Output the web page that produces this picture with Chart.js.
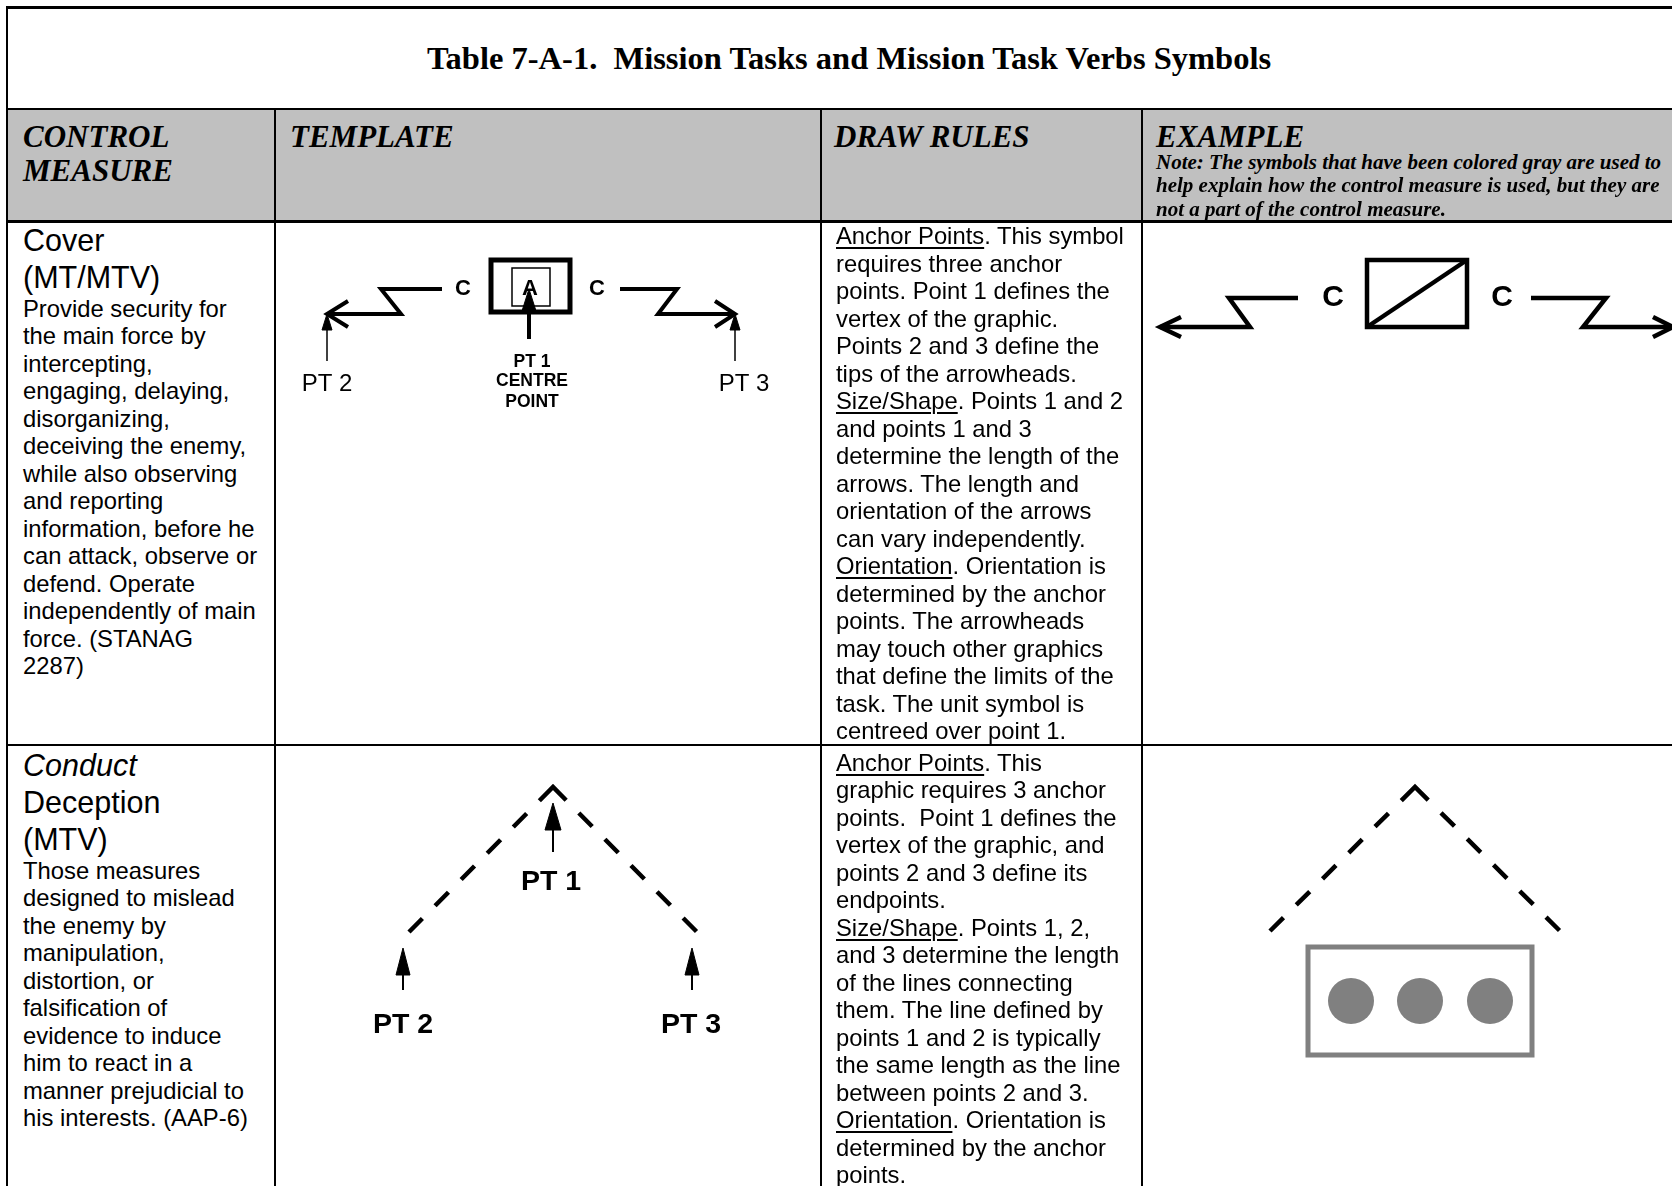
<!DOCTYPE html>
<html>
<head>
<meta charset="utf-8">
<script src="https://cdn.jsdelivr.net/npm/chart.js@4.4.1/dist/chart.umd.min.js"></script>
<style>
html,body{margin:0;padding:0;background:#fff;}
#page{position:relative;width:1672px;height:1186px;overflow:hidden;background:#fff;}
.ln{position:absolute;background:#000;}
.t{position:absolute;white-space:pre;color:#000;}
.t u{text-decoration-thickness:1.6px;text-underline-offset:3px;}
canvas{position:absolute;}
</style>
</head>
<body>
<div id="page"></div>
<script>
// ---------------- TEXT CONTENT ----------------
const titleText = 'Table 7-A-1.  Mission Tasks and Mission Task Verbs Symbols';
const headerControl = ['CONTROL', 'MEASURE'];
const headerTemplate = ['TEMPLATE'];
const headerDrawRules = ['DRAW RULES'];
const headerExample = ['EXAMPLE'];
const exampleNote = [
  'Note: The symbols that have been colored gray are used to',
  'help explain how the control measure is used, but they are',
  'not a part of the control measure.'
];
const coverName = ['Cover', '(MT/MTV)'];
const coverDesc = [
  'Provide security for', 'the main force by', 'intercepting,', 'engaging, delaying,',
  'disorganizing,', 'deceiving the enemy,', 'while also observing', 'and reporting',
  'information, before he', 'can attack, observe or', 'defend. Operate',
  'independently of main', 'force. (STANAG', '2287)'
];
const coverRules = [
  '<u>Anchor Points</u>. This symbol', 'requires three anchor', 'points. Point 1 defines the',
  'vertex of the graphic.', 'Points 2 and 3 define the', 'tips of the arrowheads.',
  '<u>Size/Shape</u>. Points 1 and 2', 'and points 1 and 3', 'determine the length of the',
  'arrows. The length and', 'orientation of the arrows', 'can vary independently.',
  '<u>Orientation</u>. Orientation is', 'determined by the anchor', 'points. The arrowheads',
  'may touch other graphics', 'that define the limits of the', 'task. The unit symbol is',
  'centreed over point 1.'
];
const deceptionName = ['<i>Conduct</i>', 'Deception', '(MTV)'];
const deceptionDesc = [
  'Those measures', 'designed to mislead', 'the enemy by', 'manipulation,', 'distortion, or',
  'falsification of', 'evidence to induce', 'him to react in a', 'manner prejudicial to',
  'his interests. (AAP-6)'
];
const deceptionRules = [
  '<u>Anchor Points</u>. This', 'graphic requires 3 anchor', 'points.  Point 1 defines the',
  'vertex of the graphic, and', 'points 2 and 3 define its', 'endpoints.',
  '<u>Size/Shape</u>. Points 1, 2,', 'and 3 determine the length', 'of the lines connecting',
  'them. The line defined by', 'points 1 and 2 is typically', 'the same length as the line',
  'between points 2 and 3.', '<u>Orientation</u>. Orientation is', 'determined by the anchor',
  'points.'
];

// ---------------- SYMBOL GEOMETRY (cell units) ----------------
// Cover - template
const coverTplLeftLine  = [{x:52,y:93},{x:126,y:93},{x:106,y:68},{x:167,y:68}];
const coverTplLeftHead  = [{x:73,y:80},{x:52,y:93},{x:73,y:106}];
const coverTplRightLine = [{x:345,y:68},{x:402,y:68},{x:383,y:93},{x:460,y:93}];
const coverTplRightHead = [{x:440,y:80},{x:460,y:93},{x:440,y:106}];
const coverTplUnitOuter = [{x:216,y:39},{x:295,y:39},{x:295,y:91},{x:216,y:91},{x:216,y:39},{x:295,y:39}];
const coverTplUnitInner = [{x:237,y:47},{x:275,y:47},{x:275,y:85},{x:237,y:85},{x:237,y:47},{x:275,y:47}];
const coverTplPt1Shaft  = [{x:254,y:118},{x:254,y:88}];
const coverTplPt1Head   = [{x:254,y:68},{x:261,y:90},{x:247,y:90},{x:254,y:68}];
const coverTplPt2Shaft  = [{x:52,y:140},{x:52,y:107}];
const coverTplPt2Head   = [{x:52,y:93},{x:57,y:109},{x:47,y:109},{x:52,y:93}];
const coverTplPt3Shaft  = [{x:460,y:140},{x:460,y:107}];
const coverTplPt3Head   = [{x:460,y:93},{x:465,y:109},{x:455,y:109},{x:460,y:93}];
const coverTplBoldLabels  = [{x:188,y:68,text:'C'},{x:322,y:68,text:'C'},{x:255,y:68,text:'A'}];
const coverTplSmallLabels = [{x:257,y:141,text:'PT 1'},{x:257,y:160,text:'CENTRE'},{x:257,y:181,text:'POINT'}];
const coverTplPtLabels    = [{x:52,y:163,text:'PT 2'},{x:469,y:163,text:'PT 3'}];

// Cover - example
const coverExLeftLine  = [{x:18,y:106},{x:108,y:106},{x:87,y:77},{x:156,y:77}];
const coverExLeftHead  = [{x:39,y:96},{x:18,y:106},{x:39,y:116}];
const coverExRightLine = [{x:389,y:77},{x:464,y:77},{x:441,y:106},{x:531,y:106}];
const coverExRightHead = [{x:511,y:96},{x:531,y:106},{x:511,y:116}];
const coverExUnit      = [{x:225,y:39},{x:325,y:39},{x:325,y:106},{x:225,y:106},{x:225,y:39},{x:325,y:39}];
const coverExUnitDiag  = [{x:225,y:106},{x:325,y:39}];
const coverExLabels    = [{x:191,y:77,text:'C'},{x:360,y:77,text:'C'}];

// Deception - template
const decTplLine     = [{x:134,y:187},{x:278,y:42},{x:422,y:187}];
const decTplPt1Head  = [{x:278,y:58},{x:286,y:85},{x:270,y:85},{x:278,y:58}];
const decTplPt1Shaft = [{x:278,y:84},{x:278,y:107}];
const decTplPt2Head  = [{x:128,y:203},{x:135,y:230},{x:121,y:230},{x:128,y:203}];
const decTplPt2Shaft = [{x:128,y:229},{x:128,y:245}];
const decTplPt3Head  = [{x:417,y:203},{x:424,y:230},{x:410,y:230},{x:417,y:203}];
const decTplPt3Shaft = [{x:417,y:229},{x:417,y:245}];
const decTplLabels   = [{x:276,y:137,text:'PT 1'},{x:128,y:280,text:'PT 2'},{x:416,y:280,text:'PT 3'}];

// Deception - example
const decExLine   = [{x:128,y:186},{x:273,y:42},{x:418,y:186}];
const decExUnit   = [{x:166,y:202},{x:390,y:202},{x:390,y:310},{x:166,y:310},{x:166,y:202},{x:390,y:202}];
const decExDots   = [{x:209,y:256},{x:278,y:256},{x:348,y:256}];

// ---------------- LAYOUT ----------------
const page = document.getElementById('page');
const PW = 1672, PH = 1186;
const colX = [7, 275, 821, 1142];
const rowY = [7, 109, 221, 745];
const SANS = '"Liberation Sans", Arial, sans-serif';
const SERIF = '"Liberation Serif", "Times New Roman", serif';
// dashed chevron: 5 dashes, a doubled dash across the vertex, 5 dashes
const chevronDash = [19,18,19,18,19,18,19,18,19,18,38,18,19,18,19,18,19,18,19,18,19,2000];

function box(x, y, w, h, color) {
  const d = document.createElement('div');
  d.className = 'ln';
  d.style.left = x + 'px'; d.style.top = y + 'px';
  d.style.width = w + 'px'; d.style.height = h + 'px';
  d.style.background = color || '#000';
  page.appendChild(d);
}
function place(html, x, base, o) {
  const d = document.createElement('div');
  d.className = 't';
  const asc = o.serif ? 0.891 : 0.905, desc = o.serif ? 0.216 : 0.212;
  d.style.fontFamily = o.serif ? SERIF : SANS;
  d.style.fontSize = o.size + 'px';
  d.style.lineHeight = o.size + 'px';
  d.style.fontWeight = o.bold ? 'bold' : 'normal';
  d.style.fontStyle = o.italic ? 'italic' : 'normal';
  d.style.left = x + 'px';
  d.style.top = (base - o.size * (1 + asc - desc) / 2) + 'px';
  if (o.center) d.style.transform = 'translateX(-50%)';
  d.innerHTML = html;
  page.appendChild(d);
}
function lines(arr, x, base, step, o) {
  arr.forEach((s, i) => place(s, x, base + i * step, o));
}

// ---------------- CHARTS ----------------
const strokeDs = (data, width, color, dash) => ({
  data, showLine: true, borderColor: color || '#000', borderWidth: width,
  borderDash: dash || [], pointRadius: 0, fill: false, clip: false,
  borderJoinStyle: 'miter', borderCapStyle: 'butt'
});
const solidDs = (data, color) => ({
  data, showLine: true, borderColor: color || '#000', borderWidth: 1,
  backgroundColor: color || '#000', fill: 'shape', pointRadius: 0, clip: false
});
const dotDs = (data, r, color) => ({
  data, showLine: false, pointRadius: r, pointHoverRadius: r, pointStyle: 'circle',
  backgroundColor: color, borderWidth: 0, pointBorderWidth: 0, clip: false
});

function makeChart(left, top, w, h, datasets, labelGroups) {
  const c = document.createElement('canvas');
  c.width = w; c.height = h;
  c.style.left = left + 'px'; c.style.top = top + 'px';
  c.style.width = w + 'px'; c.style.height = h + 'px';
  page.appendChild(c);
  const labelPlugin = {
    id: 'symbolLabels',
    afterDatasetsDraw(chart) {
      const ctx = chart.ctx, xs = chart.scales.x, ys = chart.scales.y;
      labelGroups.forEach(g => {
        ctx.save();
        ctx.font = g.font; ctx.fillStyle = g.color || '#000';
        ctx.textAlign = 'center'; ctx.textBaseline = 'middle';
        g.items.forEach(p => ctx.fillText(p.text, xs.getPixelForValue(p.x), ys.getPixelForValue(p.y)));
        ctx.restore();
      });
    }
  };
  new Chart(c, {
    type: 'scatter',
    data: { datasets },
    options: {
      responsive: false, animation: false, events: [], devicePixelRatio: 1,
      layout: { padding: 0, autoPadding: false },
      plugins: { legend: { display: false }, tooltip: { enabled: false } },
      scales: {
        x: { type: 'linear', min: 0, max: w, display: false },
        y: { type: 'linear', min: 0, max: h, reverse: true, display: false }
      },
      elements: { point: { radius: 0, hoverRadius: 0 }, line: { tension: 0 } }
    },
    plugins: [labelPlugin]
  });
}

// header background
box(colX[0], rowY[1], PW - colX[0], rowY[2] - rowY[1], '#c0c0c0');

// symbol charts
const r1w = colX[2] - colX[1], r1h = rowY[3] - rowY[2];
makeChart(colX[1], rowY[2], r1w, r1h, [
  strokeDs(coverTplLeftLine, 4), strokeDs(coverTplLeftHead, 4),
  strokeDs(coverTplRightLine, 4), strokeDs(coverTplRightHead, 4),
  strokeDs(coverTplUnitOuter, 5), strokeDs(coverTplUnitInner, 1.5),
  strokeDs(coverTplPt1Shaft, 4), solidDs(coverTplPt1Head),
  strokeDs(coverTplPt2Shaft, 1.5), solidDs(coverTplPt2Head),
  strokeDs(coverTplPt3Shaft, 1.5), solidDs(coverTplPt3Head)
], [
  { font: 'bold 22px ' + SANS, items: coverTplBoldLabels },
  { font: 'bold 17.5px ' + SANS, items: coverTplSmallLabels },
  { font: '24px ' + SANS, items: coverTplPtLabels }
]);

makeChart(colX[3], rowY[2], PW - colX[3], r1h, [
  strokeDs(coverExLeftLine, 4.5), strokeDs(coverExLeftHead, 4.5),
  strokeDs(coverExRightLine, 4.5), strokeDs(coverExRightHead, 4.5),
  strokeDs(coverExUnit, 4.5), strokeDs(coverExUnitDiag, 4.5)
], [
  { font: 'bold 30px ' + SANS, items: coverExLabels }
]);

const r2h = PH - rowY[3];
makeChart(colX[1], rowY[3], r1w, r2h, [
  strokeDs(decTplLine, 4.5, '#000', chevronDash),
  solidDs(decTplPt1Head), strokeDs(decTplPt1Shaft, 2),
  solidDs(decTplPt2Head), strokeDs(decTplPt2Shaft, 2),
  solidDs(decTplPt3Head), strokeDs(decTplPt3Shaft, 2)
], [
  { font: 'bold 28.5px ' + SANS, items: decTplLabels }
]);

makeChart(colX[3], rowY[3], PW - colX[3], r2h, [
  strokeDs(decExLine, 4.5, '#000', chevronDash),
  strokeDs(decExUnit, 5, '#808080'),
  dotDs(decExDots, 23, '#808080')
], []);

// grid lines
box(colX[0] - 1, rowY[0] - 1, PW, 2.5);          // top border
box(colX[0] - 1, rowY[1] - 1, PW, 2);            // title bottom
box(colX[0] - 1, rowY[2] - 1, PW, 2.5);          // header bottom
box(colX[0] - 1, rowY[3] - 1, PW, 2);            // row 1 bottom
box(colX[0] - 1, rowY[0] - 1, 1.5, PH);          // left border
[colX[1], colX[2], colX[3]].forEach(x => box(x - 1, rowY[1], 2, PH - rowY[1]));

// title
place(titleText, 849, 69, { serif: true, bold: true, size: 32.5, center: true });

// headers
const hdr = { serif: true, bold: true, italic: true, size: 31 };
lines(headerControl, 23, 147, 34, hdr);
lines(headerTemplate, 290, 147, 34, hdr);
lines(headerDrawRules, 834, 147, 34, hdr);
lines(headerExample, 1156, 147, 34, hdr);
lines(exampleNote, 1156, 169.5, 23.5, { serif: true, bold: true, italic: true, size: 21 });

// row 1
const big = { size: 30.5 }, body = { size: 23.8 };
lines(coverName, 23, 251, 37, big);
lines(coverDesc, 23, 317, 27.5, body);
lines(coverRules, 836, 244.5, 27.5, body);

// row 2
lines(deceptionName, 23, 776, 37, big);
lines(deceptionDesc, 23, 879, 27.5, body);
lines(deceptionRules, 836, 771, 27.5, body);
</script>
</body>
</html>
